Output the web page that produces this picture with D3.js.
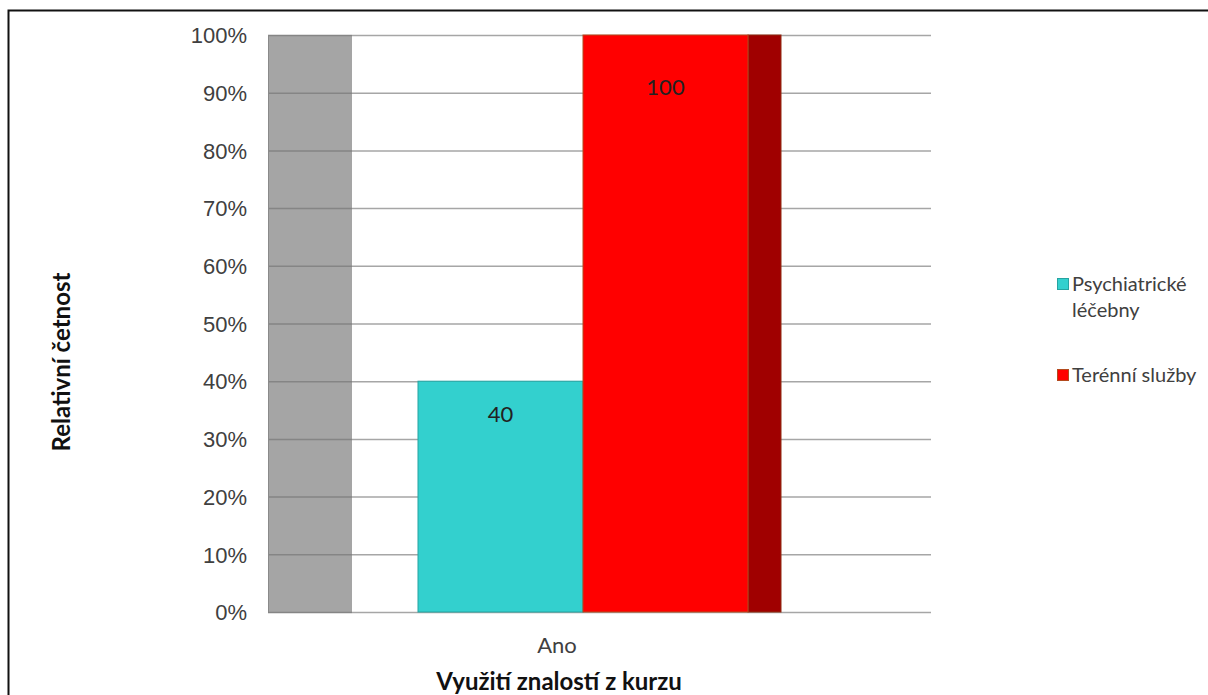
<!DOCTYPE html>
<html>
<head>
<meta charset="utf-8">
<script src="https://cdn.jsdelivr.net/npm/d3@7"></script>
<style>
  html, body { margin: 0; padding: 0; background: #fff; }
  svg { display: block; font-family: Lato, "Open Sans", "Liberation Sans", sans-serif; }
</style>
</head>
<body>
<svg id="chart" width="1208" height="695"></svg>
<script>
// Data
const categories = ["Ano"];
const seriesNames = ["Psychiatrické léčebny", "Terénní služby"];
const seriesValues = [40, 100];            // percent of respondents
const seriesFill = ["#33D0CE", "#FF0000"];
const seriesStroke = ["#26A3A1", "#B34A1E"];
const sideFill = "#A00000";
const yTicks = [0, 10, 20, 30, 40, 50, 60, 70, 80, 90, 100];

const svg = d3.select("#chart");

// outer frame
svg.append("rect")
  .attr("x", 8.5).attr("y", 10.5)
  .attr("width", 1300).attr("height", 800)
  .attr("fill", "none").attr("stroke", "#111").attr("stroke-width", 2);

const plot = { left: 268, right: 931, top: 35, bottom: 612 };
const depth = 33;   // visible side depth of the 3D columns
const wallWidth = 84;
const labelDrop = [41, 60];  // data label offset below each column top

const y = d3.scaleLinear().domain([0, 100]).range([plot.bottom, plot.top]);

const x0 = d3.scaleBand().domain(categories)
  .range([plot.left, plot.right - depth])
  .paddingOuter(0);
const groupWidth = 330;
const groupCenter = c => x0(c) + x0.bandwidth() / 2;
const x1 = d3.scaleBand().domain(seriesNames).range([-groupWidth / 2, groupWidth / 2]).padding(0);

// left wall of the 3D plot
svg.append("rect")
  .attr("x", plot.left).attr("y", y(100))
  .attr("width", wallWidth).attr("height", y(0) - y(100))
  .attr("fill", "#A5A5A5");

// gridlines
const grid = svg.append("g");
grid.selectAll("line.g1").data(yTicks).join("line")
  .attr("x1", plot.left + wallWidth).attr("x2", plot.right)
  .attr("y1", d => y(d) + 0.5).attr("y2", d => y(d) + 0.5)
  .attr("stroke", "#A6A6A6").attr("stroke-width", 1.5);
grid.selectAll("line.g2").data(yTicks).join("line")
  .attr("x1", plot.left).attr("x2", plot.left + wallWidth)
  .attr("y1", d => y(d) + 0.5).attr("y2", d => y(d) + 0.5)
  .attr("stroke", "#858585").attr("stroke-width", 1.5);
svg.append("line")
  .attr("x1", plot.left + 0.5).attr("x2", plot.left + 0.5)
  .attr("y1", y(100)).attr("y2", y(0))
  .attr("stroke", "#8A8A8A").attr("stroke-width", 1);

// y axis labels
const yAxis = d3.axisLeft(y).tickValues(yTicks).tickSize(0).tickPadding(21)
  .tickFormat(d => d + "%");
const gy = svg.append("g").attr("transform", `translate(${plot.left},0)`).call(yAxis);
gy.select(".domain").remove();
gy.selectAll("text").attr("font-size", 22).attr("fill", "#404040").attr("dy", "0.35em");

// columns
const bars = svg.append("g");
categories.forEach(cat => {
  seriesNames.forEach((s, i) => {
    const v = seriesValues[i];
    const bx = groupCenter(cat) + x1(s);
    const bw = x1.bandwidth();
    if (i === seriesNames.length - 1) {
      // right side face of the last column
      bars.append("rect")
        .attr("x", bx + bw).attr("y", y(v))
        .attr("width", depth).attr("height", y(0) - y(v))
        .attr("fill", sideFill).attr("stroke", "#8E2A10").attr("stroke-width", 1);
    }
    bars.append("rect")
      .attr("x", bx).attr("y", y(v))
      .attr("width", bw).attr("height", y(0) - y(v))
      .attr("fill", seriesFill[i]).attr("stroke", seriesStroke[i]).attr("stroke-width", 1);
    bars.append("text")
      .attr("x", bx + bw / 2).attr("y", y(v) + labelDrop[i])
      .attr("text-anchor", "middle")
      .attr("font-size", 22).attr("fill", "#222")
      .text(v);
  });
});

// category labels
categories.forEach(cat => {
  svg.append("text")
    .attr("x", groupCenter(cat) - 26).attr("y", y(0) + 41)
    .attr("text-anchor", "middle").attr("font-size", 22).attr("fill", "#404040")
    .text(cat);
});

// axis titles
svg.append("text")
  .attr("x", 559).attr("y", 690)
  .attr("text-anchor", "middle").attr("font-size", 24).attr("font-weight", "bold").attr("fill", "#111")
  .text("Využití znalostí z kurzu");
svg.append("text")
  .attr("transform", "translate(70,362) rotate(-90)")
  .attr("text-anchor", "middle").attr("font-size", 24).attr("font-weight", "bold").attr("fill", "#111")
  .text("Relativní četnost");

// legend
const legend = [
  { lines: ["Psychiatrické", "léčebny"], fill: seriesFill[0], stroke: seriesStroke[0], y: 284 },
  { lines: ["Terénní služby"], fill: seriesFill[1], stroke: seriesStroke[1], y: 375 }
];
const lg = svg.append("g");
legend.forEach(d => {
  lg.append("rect").attr("x", 1057.5).attr("y", d.y - 5.5).attr("width", 11).attr("height", 11)
    .attr("fill", d.fill).attr("stroke", d.stroke).attr("stroke-width", 1);
  d.lines.forEach((t, k) => {
    lg.append("text").attr("x", 1072).attr("y", d.y + k * 26).attr("dy", "0.35em")
      .attr("font-size", 20).attr("fill", "#404040").text(t);
  });
});
</script>
</body>
</html>
